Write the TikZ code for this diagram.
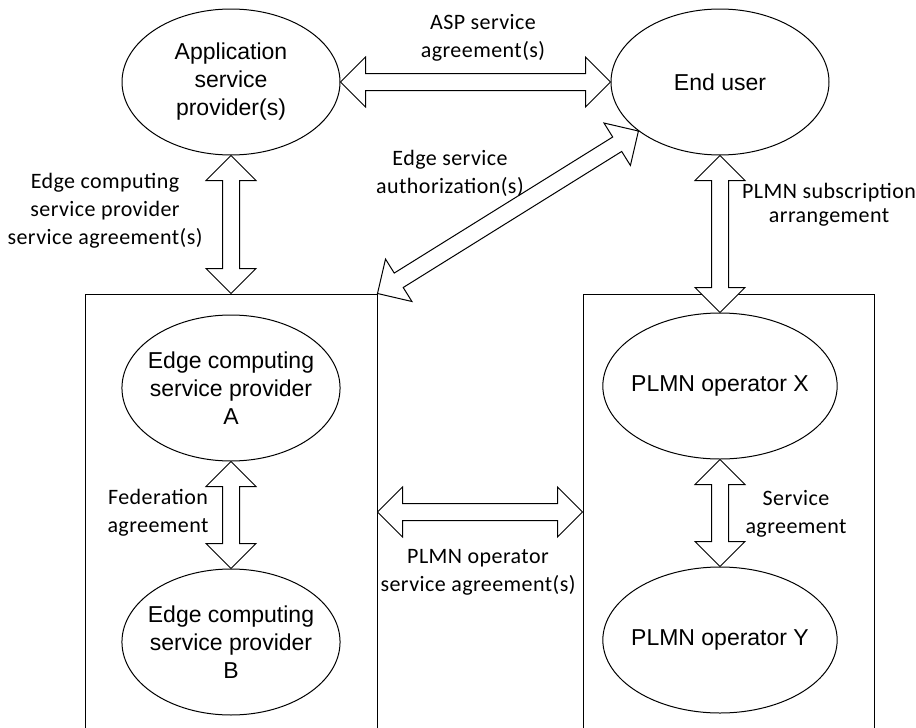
\documentclass[tikz,border=0pt]{standalone}
\usepackage{fontspec}
\setmainfont{Liberation Sans}
\newfontfamily\lblfont[LetterSpace=2]{Carlito}
\usepackage{tikz}
\usetikzlibrary{shapes,positioning,calc}

% hollow two-headed block arrow between two points
\newcommand{\dblarrow}[2]{%
    \coordinate (ha) at ($(#1)!12.5pt!(#2)$);
    \coordinate (hb) at ($(#2)!12.5pt!(#1)$);
    \draw[bigarrow] (#1) -- ($(ha)!12.5pt!90:(#2)$) -- ($(ha)!4.25pt!90:(#2)$)
        -- ($(hb)!4.25pt!-90:(#1)$) -- ($(hb)!12.5pt!-90:(#1)$) -- (#2)
        -- ($(hb)!12.5pt!90:(#1)$) -- ($(hb)!4.25pt!90:(#1)$)
        -- ($(ha)!4.25pt!-90:(#2)$) -- ($(ha)!12.5pt!-90:(#2)$) -- cycle;
}

\begin{document}
\begin{tikzpicture}[
    x=0.5pt, y=-0.5pt, line width=0.5pt,
    node distance=53.5pt,
    party/.style={ellipse, draw, inner xsep=-3pt, inner ysep=0pt, minimum width=109pt, minimum height=73pt, align=center, font=\fontsize{11.5}{14}\selectfont},
    opbox/.style={rectangle, draw, minimum width=146pt, minimum height=218pt},
    lbl/.style={align=center, font=\lblfont\fontsize{11}{14}\selectfont},
    bigarrow/.style={draw, fill=white, line join=miter}
]
    \useasboundingbox (0,0) rectangle (916,728);

    % Operator domains
    \node[opbox] (lbox) at (231,512) {};
    \node[opbox, minimum width=145.5pt] (rbox) at (728.5,512) {};

    % Top parties
    \node[party] (asp) at (231,82) {Application\\service\\provider(s)};
    \node[party, right=135pt of asp] (endu) {End user};

    % Edge computing service providers
    \node[party, below=79.5pt of asp] (ecspa) {Edge computing\\service provider\\A};
    \node[party, below=of ecspa] (ecspb) {Edge computing\\service provider\\B};

    % PLMN operators
    \node[party, below=78.5pt of endu] (plmnx) {PLMN operator X};
    \node[party, below=of plmnx] (plmny) {PLMN operator Y};

    % Arrows
    \dblarrow{asp.east}{endu.west}
    \dblarrow{asp.south}{lbox.north}
    \dblarrow{lbox.north east}{endu.211}
    \dblarrow{endu.south}{plmnx.north}
    \dblarrow{ecspa.south}{ecspb.north}
    \dblarrow{plmnx.south}{plmny.north}
    \dblarrow{lbox.east}{rbox.west}

    % Labels
    \node[lbl] (asplbl) at (483,38) {ASP service\\agreement(s)};
    \node[lbl] (authlbl) at (450,173) {Edge service\\authorization(s)};
    \node[lbl] (ecsplbl) at (105,211) {Edge computing\\service provider\\service agreement(s)};
    \node[lbl, anchor=west, font=\lblfont\fontsize{11}{12}\selectfont] (sublbl) at (735,205) {PLMN subscription\\arrangement};
    \node[lbl] (fedlbl) at (158,513) {Federation\\agreement};
    \node[lbl] (svclbl) at (796,514) {Service\\agreement};
    \node[lbl] (oplbl) at (478,572) {PLMN operator\\service agreement(s)};

\end{tikzpicture}
\end{document}
